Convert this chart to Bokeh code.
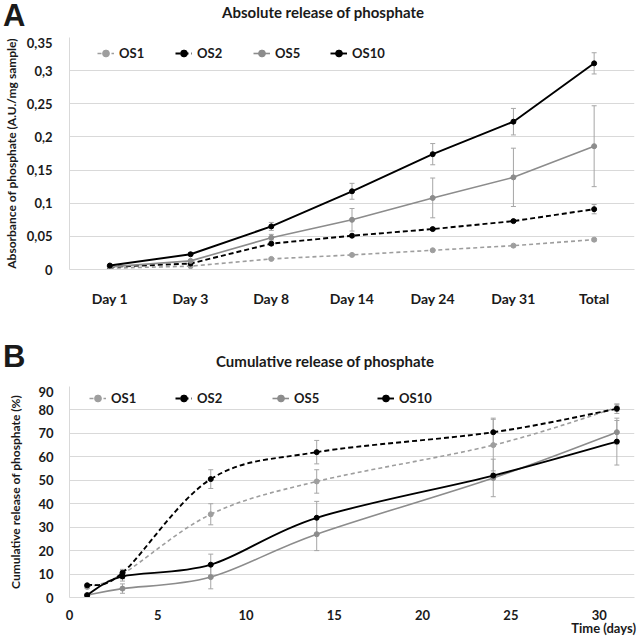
from bokeh.plotting import figure
from bokeh.layouts import column
from bokeh.models import (FactorRange, Range1d, FixedTicker, Whisker, TeeHead,
                          ColumnDataSource, Legend, LegendItem, Div)
from bokeh.embed import file_html
from bokeh.resources import INLINE

# ---------------- data ----------------
categories = ["Day 1", "Day 3", "Day 8", "Day 14", "Day 24", "Day 31", "Total"]
series_names = ["OS1", "OS2", "OS5", "OS10"]

abs_os1 = [0.002, 0.005, 0.016, 0.022, 0.029, 0.036, 0.045]
abs_os2 = [0.004, 0.009, 0.039, 0.051, 0.061, 0.073, 0.091]
abs_os5 = [0.004, 0.013, 0.048, 0.075, 0.108, 0.139, 0.186]
abs_os10 = [0.006, 0.023, 0.065, 0.118, 0.174, 0.223, 0.311]
abs_err_os1 = [0.001, 0.001, 0.001, 0.001, 0.001, 0.001, 0.002]
abs_err_os2 = [0.001, 0.001, 0.002, 0.002, 0.002, 0.002, 0.007]
abs_err_os5 = [0.001, 0.002, 0.005, 0.017, 0.030, 0.044, 0.061]
abs_err_os10 = [0.001, 0.002, 0.006, 0.012, 0.016, 0.020, 0.016]

days = [1, 3, 8, 14, 24, 31]
cum_os1 = [4.5, 10.0, 35.5, 49.5, 65.0, 81.0]
cum_os2 = [5.2, 10.5, 50.5, 62.0, 70.5, 80.5]
cum_os5 = [1.0, 3.8, 8.7, 27.0, 51.0, 70.5]
cum_os10 = [1.0, 9.0, 14.0, 34.0, 52.0, 66.5]
cum_err_os1 = [0.5, 2.0, 4.5, 5.0, 11.0, 1.5]
cum_err_os2 = [0.5, 1.0, 4.0, 5.0, 6.0, 2.0]
cum_err_os5 = [0.5, 2.0, 5.0, 7.0, 8.0, 5.0]
cum_err_os10 = [0.5, 2.0, 4.5, 7.0, 1.0, 10.0]

abs_ticks = [0, 0.05, 0.1, 0.15, 0.2, 0.25, 0.3, 0.35]
abs_tick_labels = ["0", "0,05", "0,1", "0,15", "0,2", "0,25", "0,3", "0,35"]
cum_yticks = [0, 10, 20, 30, 40, 50, 60, 70, 80, 90]
cum_xticks = [0, 5, 10, 15, 20, 25, 30]

# ---------------- styles ----------------
FONT = "Lato"
TXT = "#1a1a1a"
GRID = "#d9d9d9"
ERR = "#a6a6a6"
TICK_SIZE = "13px"
styles = {
    "OS1": dict(color="#9e9e9e", dash="4 3", width=1.6),
    "OS2": dict(color="#000000", dash="5 3", width=1.9),
    "OS5": dict(color="#8c8c8c", dash="solid", width=1.6),
    "OS10": dict(color="#000000", dash="solid", width=1.9),
}


def base_fig(height, **kw):
    return figure(width=640, height=height, output_backend="svg", toolbar_location=None, **kw)


def span(text, top, size, font=FONT, left=None, center=None, right=None, lh="1.15"):
    if left is not None:
        pos = "left:%dpx;" % left
    elif center is not None:
        pos = "left:%dpx;transform:translateX(-50%%);" % center
    else:
        pos = "right:%dpx;" % right
    return ('<span style="position:absolute;top:%dpx;%sfont-family:\'%s\';font-weight:bold;'
            'font-size:%s;line-height:%s;color:%s;white-space:nowrap;">%s</span>'
            % (top, pos, font, size, lh, TXT, text))


def header(height, spans):
    html = ('<div style="position:relative;width:640px;height:%dpx;overflow:visible;">%s</div>'
            % (height, "".join(spans)))
    return Div(text=html, width=640, height=height, margin=0)


def style_axes(p):
    p.outline_line_color = None
    p.xgrid.grid_line_color = None
    p.ygrid.grid_line_color = GRID
    p.ygrid.grid_line_width = 1
    for ax in (p.xaxis[0], p.yaxis[0]):
        ax.axis_line_color = GRID
        ax.major_tick_line_color = None
        ax.minor_tick_line_color = None
        ax.major_label_text_font = FONT
        ax.major_label_text_font_style = "bold"
        ax.major_label_text_font_size = TICK_SIZE
        ax.major_label_text_color = TXT
    ya = p.yaxis[0]
    ya.axis_label_text_font = FONT
    ya.axis_label_text_font_style = "bold"
    ya.axis_label_text_font_size = "12px"
    ya.axis_label_text_color = TXT


def add_legends(p, renderers, xs, bottom):
    for name, x in zip(series_names, xs):
        leg = Legend(items=[LegendItem(label=name, renderers=renderers[name], index=0)],
                     location=(x, bottom),
                     padding=0, margin=0, border_line_color=None, background_fill_alpha=0,
                     glyph_width=17, glyph_height=20, label_height=20, label_standoff=5,
                     label_text_font=FONT, label_text_font_style="bold",
                     label_text_font_size=TICK_SIZE, label_text_color=TXT)
        p.add_layout(leg, "center")


def smooth(xs, ys):
    n = len(xs)
    d = dict(x0=[], y0=[], x1=[], y1=[], cx0=[], cy0=[], cx1=[], cy1=[])
    for i in range(n - 1):
        a = i - 1 if i > 0 else i
        b = i + 2 if i + 2 < n else i + 1
        d["x0"].append(xs[i]); d["y0"].append(ys[i])
        d["x1"].append(xs[i + 1]); d["y1"].append(ys[i + 1])
        d["cx0"].append(xs[i] + (xs[i + 1] - xs[a]) / 6)
        d["cy0"].append(ys[i] + (ys[i + 1] - ys[a]) / 6)
        d["cx1"].append(xs[i + 1] - (xs[b] - xs[i]) / 6)
        d["cy1"].append(ys[i + 1] - (ys[b] - ys[i]) / 6)
    return ColumnDataSource(d)


def add_errors(p, src):
    p.add_layout(Whisker(source=src, base="x", upper="up", lower="lo", dimension="height",
                         line_color=ERR, line_width=1,
                         upper_head=TeeHead(size=5, line_color=ERR, line_width=1),
                         lower_head=TeeHead(size=5, line_color=ERR, line_width=1)))


# ---------------- panel A ----------------
hA = header(37, [span("A", 0, "31px", font="Liberation Sans", left=3, lh="1"),
                 span("Absolute release of phosphate", 4, "15px", center=323)])

pA = base_fig(281, x_range=FactorRange(*categories, range_padding=0), y_range=Range1d(0, 0.35),
              min_border_left=62, min_border_right=5, min_border_top=0, min_border_bottom=49)
style_axes(pA)
pA.xaxis.major_label_text_font_size = "14px"
pA.yaxis.ticker = FixedTicker(ticks=abs_ticks)
pA.yaxis.major_label_overrides = {t: l for t, l in zip(abs_ticks, abs_tick_labels)}
pA.yaxis.major_label_standoff = 11
pA.xaxis.major_label_standoff = 14
pA.yaxis.axis_label = "Absorbance of phosphate (A.U./mg sample)"
pA.yaxis.axis_label_standoff = 5

abs_data = {"OS1": (abs_os1, abs_err_os1), "OS2": (abs_os2, abs_err_os2),
            "OS5": (abs_os5, abs_err_os5), "OS10": (abs_os10, abs_err_os10)}
rendA = {}
for name in series_names:
    vals, errs = abs_data[name]
    st = styles[name]
    src = ColumnDataSource(dict(x=categories, y=vals,
                                up=[v + e for v, e in zip(vals, errs)],
                                lo=[v - e for v, e in zip(vals, errs)]))
    add_errors(pA, src)
    lr = pA.line("x", "y", source=src, line_color=st["color"], line_dash=st["dash"], line_width=st["width"])
    sr = pA.scatter("x", "y", source=src, marker="circle", size=5, fill_color=st["color"], line_color=st["color"])
    rendA[name] = [lr, sr]

add_legends(pA, rendA, [28, 106, 184, 261], 206)

# ---------------- panel B ----------------
hB = header(68, [span("B", 23, "31px", font="Liberation Sans", left=3, lh="1"),
                 span("Cumulative release of phosphate", 35, "15px", center=325)])

pB = base_fig(236, x_range=Range1d(0, 32), y_range=Range1d(0, 90),
              min_border_left=60, min_border_right=6, min_border_top=0, min_border_bottom=25)
style_axes(pB)
pB.yaxis.ticker = FixedTicker(ticks=cum_yticks)
pB.xaxis.ticker = FixedTicker(ticks=cum_xticks)
pB.yaxis.major_label_standoff = 10
pB.xaxis.major_label_standoff = 6
pB.yaxis.axis_label = "Cumulative release of phosphate (%)"
pB.yaxis.axis_label_standoff = 12

cum_data = {"OS1": (cum_os1, cum_err_os1), "OS2": (cum_os2, cum_err_os2),
            "OS5": (cum_os5, cum_err_os5), "OS10": (cum_os10, cum_err_os10)}
rendB = {}
for name in series_names:
    vals, errs = cum_data[name]
    st = styles[name]
    src = ColumnDataSource(dict(x=days, y=vals,
                                up=[v + e for v, e in zip(vals, errs)],
                                lo=[v - e for v, e in zip(vals, errs)]))
    add_errors(pB, src)
    br = pB.bezier(x0="x0", y0="y0", x1="x1", y1="y1", cx0="cx0", cy0="cy0", cx1="cx1", cy1="cy1",
                   source=smooth(days, vals), line_color=st["color"], line_dash=st["dash"],
                   line_width=st["width"])
    sr = pB.scatter("x", "y", source=src, marker="circle", size=5, fill_color=st["color"], line_color=st["color"])
    rendB[name] = [br, sr]

add_legends(pB, rendB, [20, 106, 203, 308], 189)

fB = header(20, [span("Time (days)", -1, TICK_SIZE, right=4)])

layout = column(hA, pA, hB, pB, fB, spacing=0)
open("out.html", "w").write(file_html(layout, INLINE))
